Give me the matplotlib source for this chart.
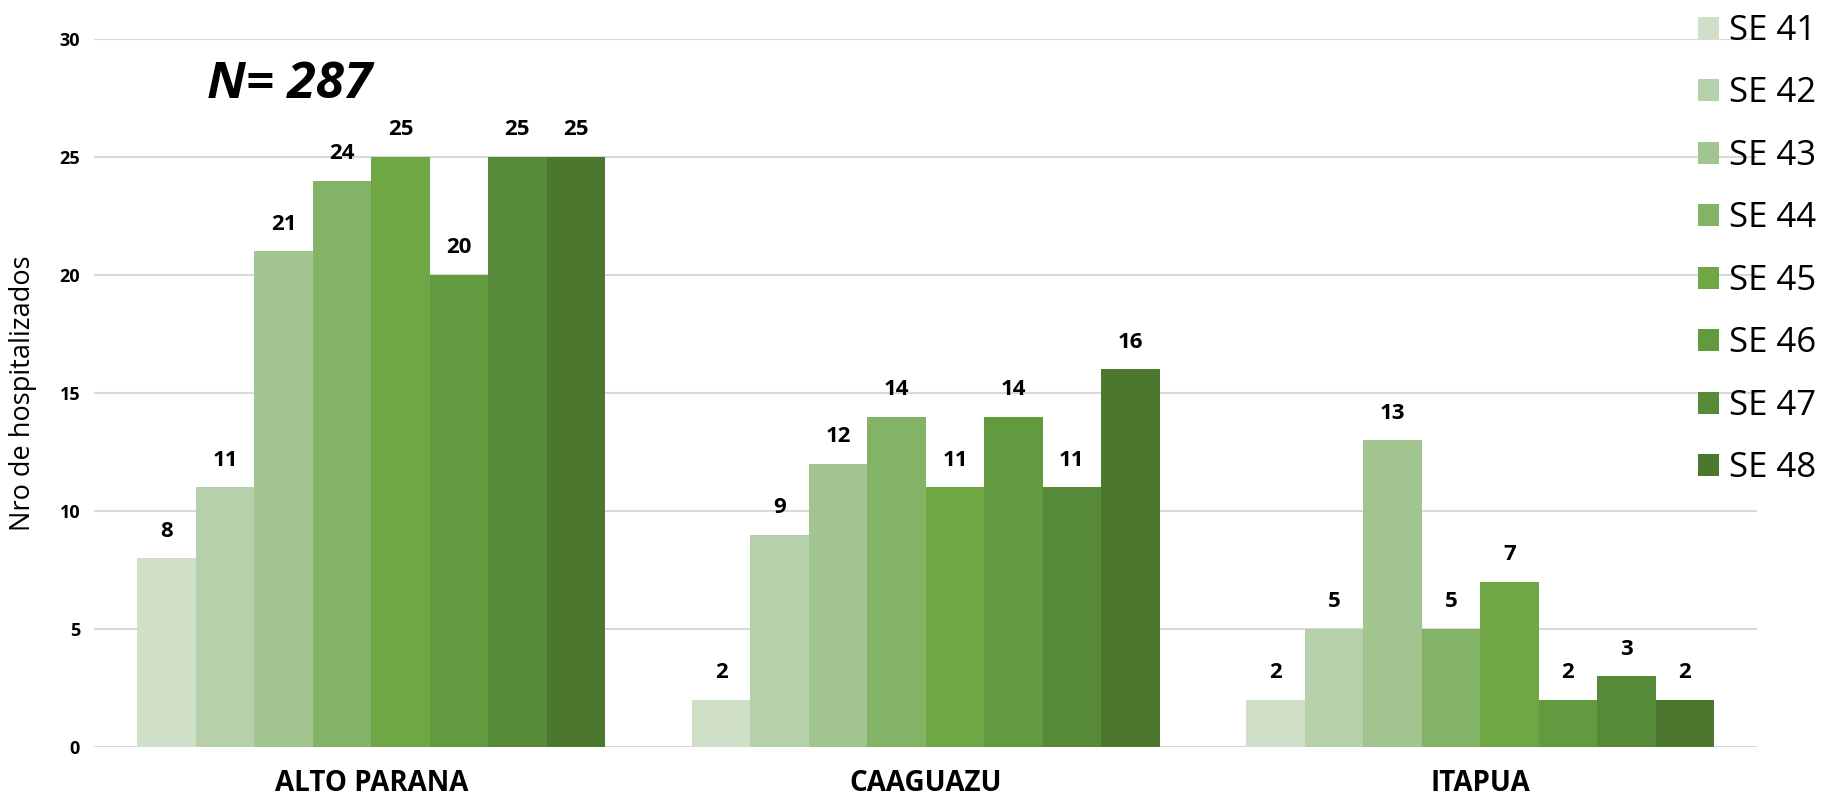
import numpy as np
import matplotlib.pyplot as plt

plt.rcParams['font.family'] = ['Open Sans', 'DejaVu Sans']

departments = ["ALTO PARANA", "CAAGUAZU", "ITAPUA"]
weeks = ["SE 41", "SE 42", "SE 43", "SE 44", "SE 45", "SE 46", "SE 47", "SE 48"]
se41 = [8, 2, 2]
se42 = [11, 9, 5]
se43 = [21, 12, 13]
se44 = [24, 14, 5]
se45 = [25, 11, 7]
se46 = [20, 14, 2]
se47 = [25, 11, 3]
se48 = [25, 16, 2]
series = [se41, se42, se43, se44, se45, se46, se47, se48]

colors = ["#d0dfc8", "#b5d0ab", "#a2c48f", "#82b366",
          "#6ea744", "#629a3f", "#568a38", "#4b772f"]

fig = plt.figure(figsize=(18.25, 7.97), dpi=100)
ax = fig.add_axes([0.0515, 0.0627, 0.9115, 0.8884])

x = np.arange(len(departments))
width = 0.1054
for i, (vals, lab, col) in enumerate(zip(series, weeks, colors)):
    pos = x + (i - 3.5) * width
    bars = ax.bar(pos, vals, width, color=col, label=lab, zorder=2)
    ax.bar_label(bars, padding=12, fontsize=16, fontweight="bold")

ax.set_xlim(-0.5, 2.5)
ax.set_ylim(0, 30)
ax.set_yticks(range(0, 31, 5))
ax.yaxis.grid(True, color="#d9d9d9", linewidth=1.5, zorder=0)
ax.set_axisbelow(True)
for s in ax.spines.values():
    s.set_visible(False)
ax.tick_params(axis="y", length=0, pad=10, labelsize=13)
ax.tick_params(axis="x", length=0, pad=16, labelsize=20)
for t in ax.get_yticklabels():
    t.set_fontweight("bold")
ax.set_xticks(x)
ax.set_xticklabels(departments, fontweight="bold")
ax.set_ylabel("Nro de hospitalizados", fontsize=19.5, labelpad=16)

ax.text(0.068, 0.935, "N= 287", transform=ax.transAxes, fontsize=37,
        fontweight="bold", fontstyle="italic", va="center", ha="left")

fig.legend(loc="upper left", bbox_to_anchor=(1698 / 1825, 1 - 14 / 797),
           frameon=False, fontsize=25, handlelength=0.6, handleheight=0.6,
           handletextpad=0.3, labelspacing=0.82, borderpad=0,
           borderaxespad=0)

fig.savefig("out.png", dpi=100)
